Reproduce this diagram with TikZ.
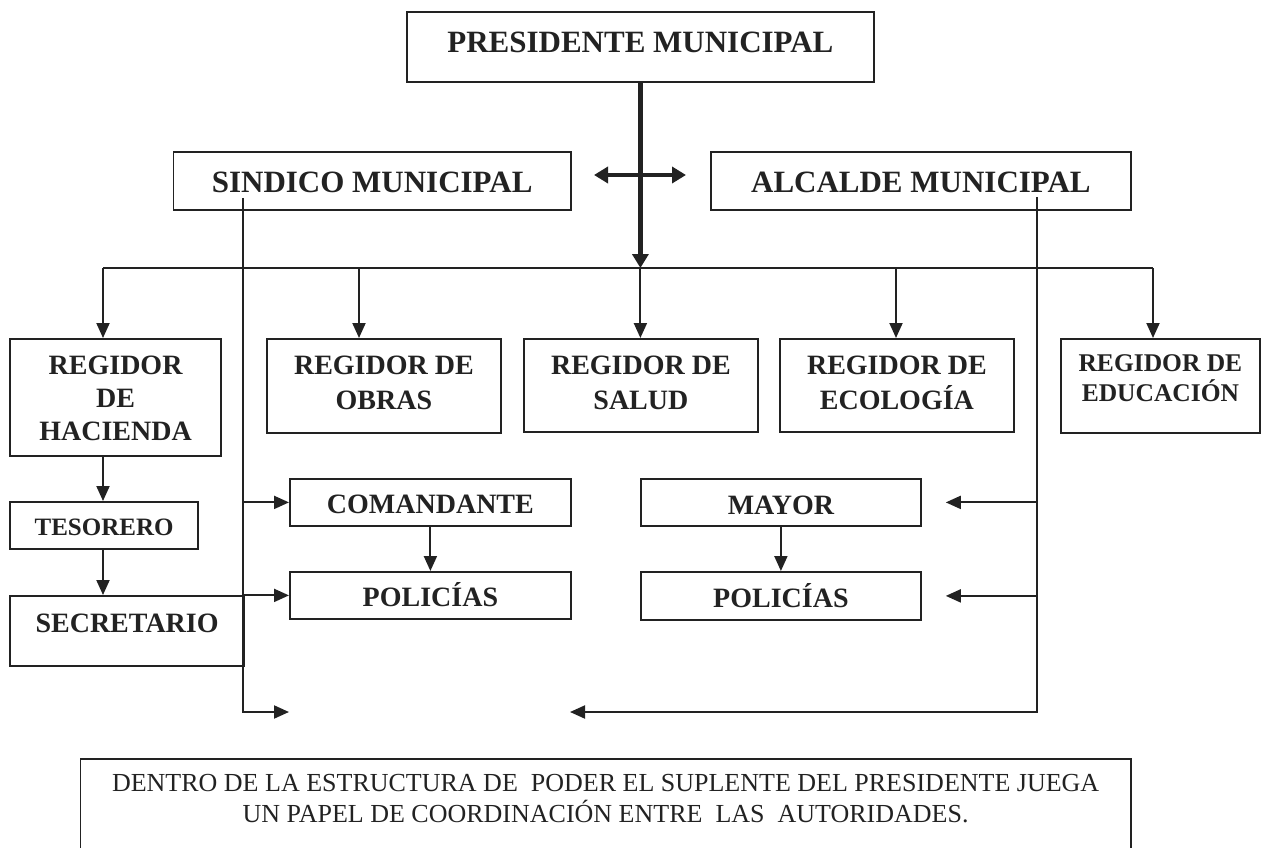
\documentclass[tikz,border=0pt]{standalone}
\usepackage{fontspec}
\setmainfont{Liberation Serif}
\usetikzlibrary{arrows.meta}
\definecolor{ink}{HTML}{222222}
\newcommand\mlines[1]{\begin{tabular}[b]{@{}c@{}}#1\end{tabular}}
\begin{document}
\begin{tikzpicture}[x=1pt,y=-1pt,
  box/.style={draw=ink, line width=1.8pt, inner sep=0pt, anchor=north west, text=ink, text depth=0pt, rectangle},
  big/.style={font=\fontsize{31}{37}\selectfont\bfseries},
  mid/.style={font=\fontsize{28}{35}\selectfont\bfseries},
  midh/.style={font=\fontsize{28}{33}\selectfont\bfseries},
  sml/.style={font=\fontsize{25}{28}\selectfont\bfseries},
  edus/.style={font=\fontsize{25.5}{28}\selectfont\bfseries},
  note/.style={font=\fontsize{26}{30}\selectfont},
  conn/.style={draw=ink, line width=2pt, line join=miter},
  arr/.style={conn, -{Triangle[length=15pt,width=13pt]}},
  thickarr/.style={draw=ink, line width=4.5pt, -{Triangle[length=14pt,width=16pt]}},
  dblarr/.style={draw=ink, line width=4.5pt, {Triangle[length=14pt,width=16pt]}-{Triangle[length=14pt,width=16pt]}}
]
\useasboundingbox (0,0) rectangle (1262,848);

% top level
\node[box, big, minimum width=467pt, minimum height=70pt, text height=12pt] (pres) at (406,11) {PRESIDENTE MUNICIPAL};
\node[box, big, minimum width=397.5pt, minimum height=58pt, text height=24pt] (sind) at (172.5,151) {SINDICO MUNICIPAL};
\node[box, big, minimum width=420pt, minimum height=58pt, text height=24pt] (alc) at (710,151) {ALCALDE MUNICIPAL};

% regidores
\node[box, midh, minimum width=210.6pt, minimum height=117pt, text height=87pt] (hac) at (9.4,338) {\mlines{REGIDOR\\DE\\HACIENDA}};
\node[box, mid, minimum width=234pt, minimum height=94pt, text height=48pt] (obr) at (266,338) {\mlines{REGIDOR DE\\OBRAS}};
\node[box, mid, minimum width=234pt, minimum height=93pt, text height=48pt] (sal) at (523,338) {\mlines{REGIDOR DE\\SALUD}};
\node[box, mid, minimum width=234pt, minimum height=93pt, text height=48pt] (eco) at (779,338) {\mlines{REGIDOR DE\\ECOLOGÍA}};
\node[box, edus, minimum width=199pt, minimum height=94pt, text height=32pt] (edu) at (1060,338) {\mlines{REGIDOR DE\\EDUCACIÓN}};

% lower boxes
\node[box, sml, minimum width=187.6pt, minimum height=47pt, text height=21pt] (tes) at (9.4,501) {TESORERO};
\node[box, mid, minimum width=233.6pt, minimum height=70pt, text height=4pt] (sec) at (9.4,595) {SECRETARIO};
\node[box, mid, minimum width=281pt, minimum height=47pt, text height=23pt] (com) at (289,478) {COMANDANTE\hspace{30pt}};
\node[box, mid, minimum width=281pt, minimum height=47pt, text height=23pt] (polL) at (289,571) {POLICÍAS};
\node[box, mid, minimum width=280pt, minimum height=47pt, text height=25pt] (may) at (640,478) {MAYOR};
\node[box, mid, minimum width=280pt, minimum height=48pt, text height=24pt] (polR) at (640,571) {POLICÍAS};

% note box
\node[box, note, minimum width=1050.5pt, minimum height=97pt, text height=31pt] (nota) at (79.5,758)
  {\mlines{DENTRO DE LA ESTRUCTURA DE\ \ PODER EL SUPLENTE DEL PRESIDENTE JUEGA\\UN PAPEL DE COORDINACIÓN ENTRE\ \ LAS\ \ AUTORIDADES.}};

% coordinates
\coordinate (busL) at (103,268);
\coordinate (busR) at (1153,268);
\coordinate (bObr) at (359,268);
\coordinate (bEco) at (896,268);
\coordinate (dl) at (594,175);
\coordinate (dr) at (686,175);
\coordinate (s0) at (243,198);
\coordinate (s1) at (243,712);
\coordinate (send) at (289,712);
\coordinate (a0) at (1037,197);
\coordinate (a1) at (1037,712);
\coordinate (aend) at (570,712);

% president connectors
\draw[conn] (busL) -- (busR);
\draw[thickarr] (pres.south) -- (pres.south |- busL);
\draw[dblarr] (dl) -- (dr);

% bus to regidores
\draw[arr] (busL) -- (busL |- hac.north);
\draw[arr] (bObr) -- (bObr |- obr.north);
\draw[arr] (pres.south |- busL) -- (pres.south |- sal.north);
\draw[arr] (bEco) -- (bEco |- eco.north);
\draw[arr] (busR) -- (busR |- edu.north);

% hacienda chain
\draw[arr] (busL |- hac.south) -- (busL |- tes.north);
\draw[arr] (busL |- tes.south) -- (busL |- sec.north);

% sindico line
\draw[arr] (s0) -- (s1) -- (send);
\draw[arr] (s0 |- com.west) -- (com.west);
\draw[arr] (s0 |- polL.west) -- (polL.west);
\draw[arr] (com.south) -- (polL.north);

% alcalde line
\draw[arr] (a0) -- (a1) -- (aend);
\draw[arr] (a0 |- may.east) -- ([xshift=24pt]may.east);
\draw[arr] (a0 |- polR.east) -- ([xshift=24pt]polR.east);
\draw[arr] (may.south) -- (polR.north);
\end{tikzpicture}
\end{document}
